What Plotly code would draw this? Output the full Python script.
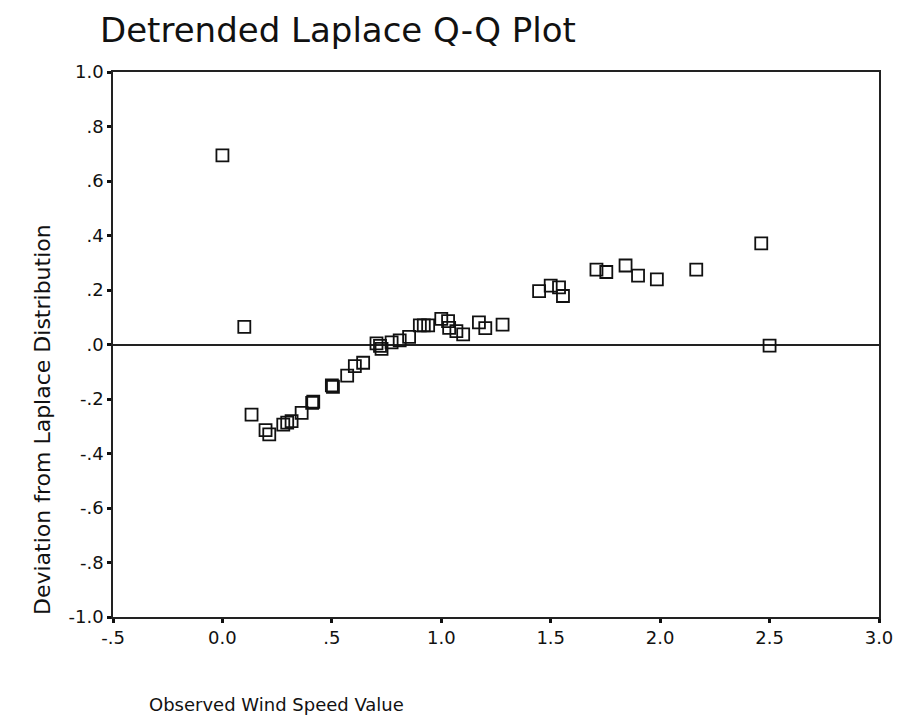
import plotly.graph_objects as go

# Observed wind speed values (x) and deviation from Laplace distribution (y)
obs_x = [0.00, 0.10, 0.133, 0.197, 0.214, 0.278, 0.296, 0.316, 0.362, 0.410, 0.415,
         0.500, 0.505, 0.570, 0.605, 0.643, 0.704, 0.720, 0.727, 0.773, 0.810, 0.853,
         0.902, 0.920, 0.940, 1.000, 1.031, 1.036, 1.069, 1.100, 1.172, 1.201, 1.280,
         1.447, 1.500, 1.538, 1.556, 1.709, 1.754, 1.842, 1.899, 1.985, 2.165, 2.462, 2.500]
dev_y = [0.694, 0.065, -0.257, -0.314, -0.330, -0.294, -0.287, -0.281, -0.251, -0.214, -0.210,
         -0.150, -0.155, -0.114, -0.079, -0.067, 0.004, -0.005, -0.016, 0.008, 0.015, 0.028,
         0.070, 0.070, 0.070, 0.094, 0.086, 0.061, 0.049, 0.037, 0.081, 0.060, 0.073,
         0.196, 0.216, 0.210, 0.178, 0.275, 0.266, 0.290, 0.253, 0.239, 0.275, 0.371, -0.004]

x_tickvals = [-0.5, 0.0, 0.5, 1.0, 1.5, 2.0, 2.5, 3.0]
x_ticktext = ["-.5", "0.0", ".5", "1.0", "1.5", "2.0", "2.5", "3.0"]
y_tickvals = [1.0, 0.8, 0.6, 0.4, 0.2, 0.0, -0.2, -0.4, -0.6, -0.8, -1.0]
y_ticktext = ["1.0", ".8", ".6", ".4", ".2", ".0", "-.2", "-.4", "-.6", "-.8", "-1.0"]

FONT = "DejaVu Sans"
W, H = 909, 719
L, R, T, B = 113, 30, 72, 102


def cx(px):
    return px / W


def cy(py):
    return 1 - py / H


fig = go.Figure()
fig.add_trace(go.Scatter(
    x=obs_x, y=dev_y, mode="markers",
    marker=dict(symbol="square-open", size=12, color="#111", line=dict(width=1.8, color="#111")),
    showlegend=False,
))

fig.update_layout(
    width=W, height=H,
    margin=dict(l=L, r=R, t=T, b=B),
    paper_bgcolor="white", plot_bgcolor="white",
    font=dict(family=FONT, color="#111", size=18),
    title=dict(text="Detrended Laplace Q-Q Plot", x=cx(100), xanchor="left", xref="container",
               y=cy(30), yanchor="middle", yref="container",
               font=dict(family=FONT, size=34, color="#111")),
    xaxis=dict(range=[-0.5, 3.0], tickvals=x_tickvals, ticktext=x_ticktext,
               showgrid=False, zeroline=False, showline=True, mirror=True,
               linecolor="#222", linewidth=1.5, ticks="outside", ticklen=4, tickwidth=3,
               tickcolor="#111", tickfont=dict(size=18)),
    yaxis=dict(range=[-1.0, 1.0], tickvals=y_tickvals, ticktext=y_ticktext,
               showgrid=False, zeroline=True, zerolinecolor="#222", zerolinewidth=1.5,
               showline=True, mirror=True, linecolor="#222", linewidth=1.5,
               ticks="outside", ticklen=4, tickwidth=3, tickcolor="#111",
               tickfont=dict(size=18)),
)

fig.add_annotation(text="Deviation from Laplace Distribution", textangle=-90,
                   x=(42 - L) / (W - L - R), y=(H - B - 420) / (H - T - B),
                   xref="paper", yref="paper", showarrow=False,
                   xanchor="center", yanchor="middle",
                   font=dict(family=FONT, size=22, color="#111"))
fig.add_annotation(text="Observed Wind Speed Value",
                   x=(147 - L) / (W - L - R), y=(H - B - 704) / (H - T - B),
                   xref="paper", yref="paper", showarrow=False,
                   xanchor="left", yanchor="middle",
                   font=dict(family=FONT, size=18, color="#111"))

fig.write_html("out.html")
